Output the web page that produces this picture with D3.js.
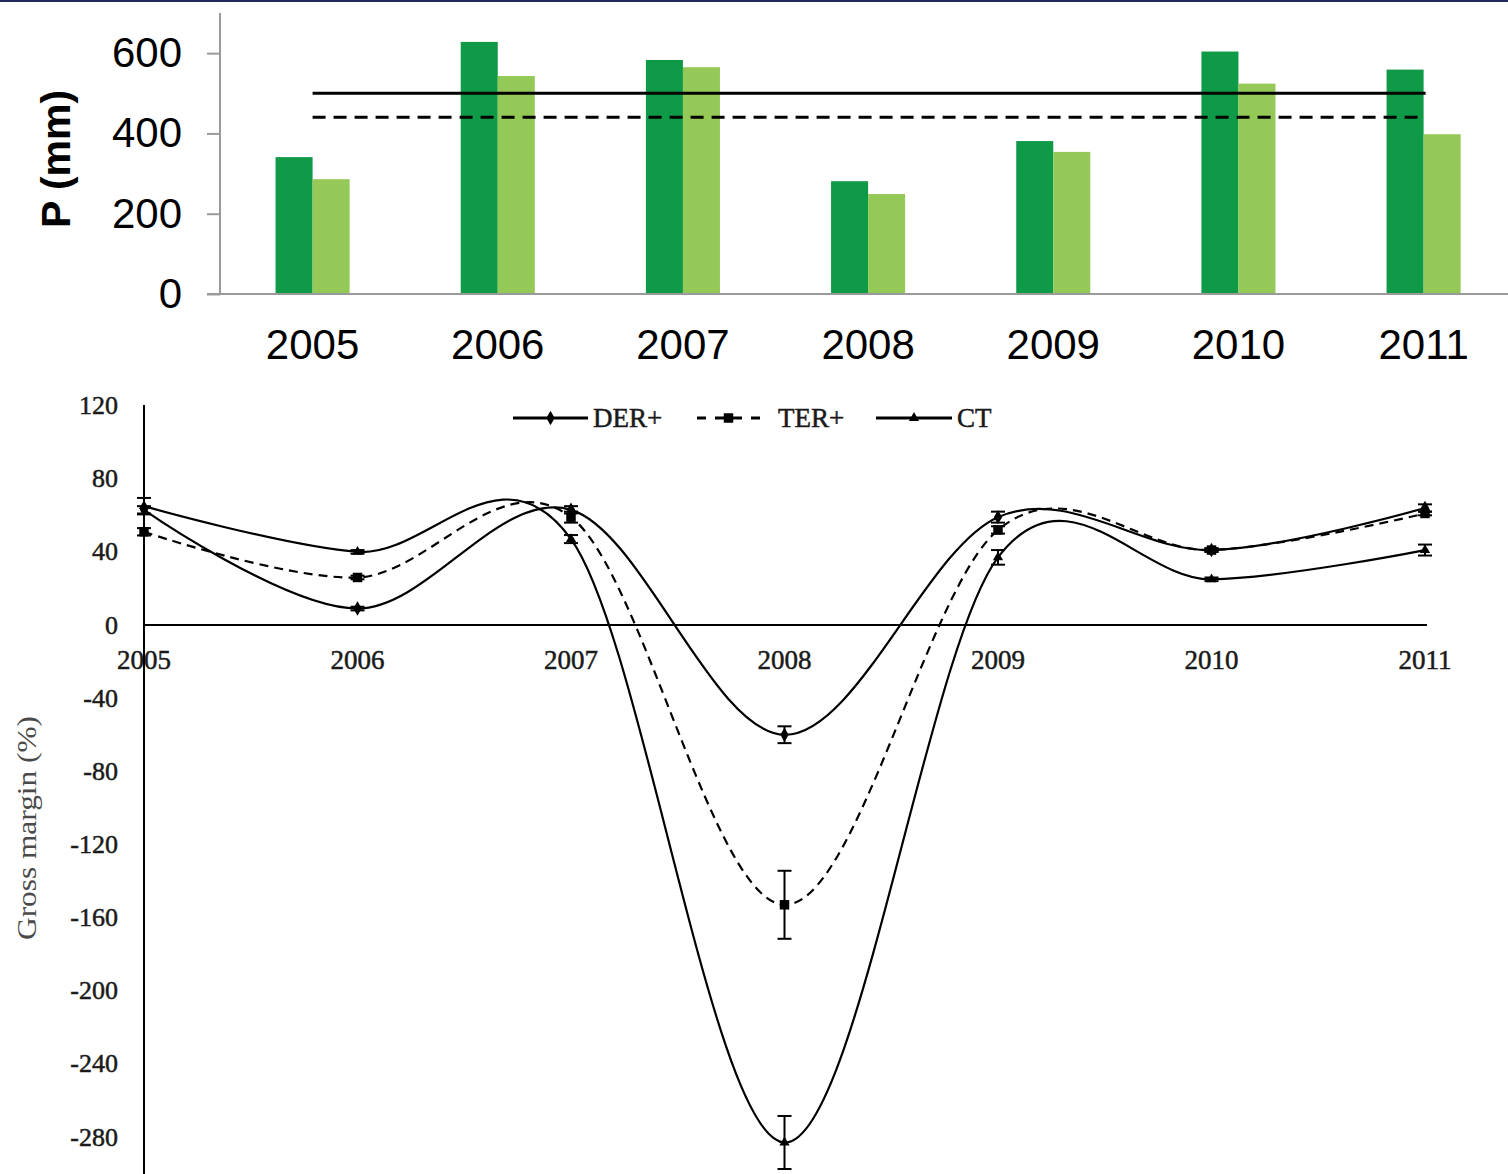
<!DOCTYPE html>
<html>
<head>
<meta charset="utf-8">
<script src="https://cdn.jsdelivr.net/npm/d3@7"></script>
<style>
  html, body { margin: 0; padding: 0; background: #fff; }
  svg { display: block; }
</style>
</head>
<body>
<svg id="chart" width="1508" height="1174"></svg>
<script>
// ---- Precipitation (top panel) ----
const years = ["2005", "2006", "2007", "2008", "2009", "2010", "2011"];
const precipDark = [341, 628, 583, 281, 381, 604, 559];
const precipLight = [286, 543, 565, 249, 354, 524, 398];
const meanDark = 500;
const meanLight = 440;
const precipTicks = [0, 200, 400, 600];

// ---- Gross margin (bottom panel) ----
const derPlus = [63, 9, 63, -60, 59, 41, 64];
const derPlusErr = [2, 1, 2, 4.6, 3, 1, 2];
const terPlus = [51, 26, 59, -153, 52, 41, 61];
const terPlusErr = [2, 1, 3, 18.6, 2, 1, 1];
const ctVals = [65, 40, 47, -283, 37, 25, 41];
const ctErr = [4.5, 1, 2.2, 14.5, 4, 1, 3];
const marginTicks = [120, 80, 40, 0, -40, -80, -120, -160, -200, -240, -280];
const seriesNames = ["DER+", "TER+", "CT"];

const svg = d3.select("#chart");

// thin frame line along the top edge
svg.append("rect").attr("x", 0).attr("y", 0).attr("width", 1508).attr("height", 2)
  .attr("fill", "#1e2b5c");

// ================= Top panel =================
const topG = svg.append("g");
const xBand = d3.scaleBand().domain(years).range([220, 1516.2])
  .paddingInner(0.6).paddingOuter(0.3);
const xSub = d3.scaleBand().domain(["dark", "light"]).range([0, xBand.bandwidth()]);
const yTop = d3.scaleLinear().domain([0, 700]).range([294, 13]);

// bars
const barData = years.map((y, i) => ({ year: y, dark: precipDark[i], light: precipLight[i] }));
const colors = { dark: "#0f9a48", light: "#95c957" };
const grp = topG.selectAll("g.year").data(barData).join("g")
  .attr("transform", d => `translate(${xBand(d.year)},0)`);
grp.selectAll("rect").data(d => ["dark", "light"].map(k => ({ k, v: d[k] }))).join("rect")
  .attr("x", d => xSub(d.k))
  .attr("width", xSub.bandwidth())
  .attr("y", d => yTop(d.v))
  .attr("height", d => yTop(0) - yTop(d.v))
  .attr("fill", d => colors[d.k]);

// mean lines
const xFirst = xBand(years[0]) + xBand.bandwidth() / 2;
const xLast = xBand(years[years.length - 1]) + xBand.bandwidth() / 2;
topG.append("line").attr("x1", xFirst).attr("x2", xLast + 2)
  .attr("y1", yTop(meanDark)).attr("y2", yTop(meanDark))
  .attr("stroke", "#000").attr("stroke-width", 3);
topG.append("line").attr("x1", xFirst).attr("x2", xLast - 2)
  .attr("y1", yTop(meanLight)).attr("y2", yTop(meanLight))
  .attr("stroke", "#000").attr("stroke-width", 3).attr("stroke-dasharray", "13,8");

// axes
const yAxisTop = d3.axisLeft(yTop).tickValues(precipTicks).tickSize(13).tickPadding(25);
const yTopG = topG.append("g").attr("transform", "translate(220,0)").call(yAxisTop);
yTopG.select(".domain").attr("stroke", "#9a9a9a").attr("stroke-width", 2)
  .attr("d", `M0,${yTop(700)}V${yTop(0)}`);
yTopG.selectAll(".tick line").attr("stroke", "#9a9a9a").attr("stroke-width", 2);
yTopG.selectAll(".tick text").attr("font-family", "Liberation Sans, Arial, sans-serif")
  .attr("font-size", 42).attr("fill", "#000");

topG.append("line").attr("x1", 207).attr("x2", 1508).attr("y1", yTop(0)).attr("y2", yTop(0))
  .attr("stroke", "#9a9a9a").attr("stroke-width", 2);

topG.selectAll("text.xlab").data(years).join("text").attr("class", "xlab")
  .attr("x", d => xBand(d) + xBand.bandwidth() / 2)
  .attr("y", 359)
  .attr("text-anchor", "middle")
  .attr("font-family", "Liberation Sans, Arial, sans-serif")
  .attr("font-size", 42).attr("fill", "#000")
  .text(d => d);

topG.append("text")
  .attr("transform", "translate(70,159) rotate(-90)")
  .attr("text-anchor", "middle")
  .attr("font-family", "Liberation Sans, Arial, sans-serif")
  .attr("font-weight", "bold").attr("font-size", 41).attr("fill", "#000")
  .text("P (mm)");

// ================= Bottom panel =================
const botG = svg.append("g");
const serif = "Liberation Serif, Times New Roman, serif";
const xPt = d3.scalePoint().domain(years).range([144, 1425]);
const yBot = d3.scaleLinear().domain([-280, 120]).range([1137, 405.6]);

// tick labels
botG.selectAll("text.ytick").data(marginTicks).join("text").attr("class", "ytick")
  .attr("x", 118).attr("y", d => yBot(d)).attr("dy", "0.33em")
  .attr("text-anchor", "end")
  .attr("font-family", serif).attr("font-size", 26).attr("fill", "#1a1a1a")
  .attr("stroke", "#1a1a1a").attr("stroke-width", 0.5)
  .text(d => d);

botG.selectAll("text.xtick").data(years).join("text").attr("class", "xtick")
  .attr("x", d => xPt(d)).attr("y", 669)
  .attr("text-anchor", "middle")
  .attr("font-family", serif).attr("font-size", 27).attr("fill", "#1a1a1a")
  .attr("stroke", "#1a1a1a").attr("stroke-width", 0.5)
  .text(d => d);

botG.append("text")
  .attr("transform", "translate(36,828) rotate(-90)")
  .attr("text-anchor", "middle")
  .attr("font-family", serif).attr("font-size", 27).attr("fill", "#4a4a4a")
  .attr("textLength", 224).attr("lengthAdjust", "spacingAndGlyphs")
  .text("Gross margin (%)");

// axes lines
botG.append("line").attr("x1", 144).attr("x2", 144).attr("y1", 405).attr("y2", 1174)
  .attr("stroke", "#000").attr("stroke-width", 2);
botG.append("line").attr("x1", 144).attr("x2", 1427).attr("y1", yBot(0)).attr("y2", yBot(0))
  .attr("stroke", "#000").attr("stroke-width", 2);

// series
const series = [
  { name: seriesNames[0], vals: derPlus, err: derPlusErr, dash: null, marker: "diamond" },
  { name: seriesNames[1], vals: terPlus, err: terPlusErr, dash: "9,6", marker: "square" },
  { name: seriesNames[2], vals: ctVals, err: ctErr, dash: null, marker: "triangle" }
];
const symbolTypes = { diamond: d3.symbolDiamond, square: d3.symbolSquare, triangle: d3.symbolTriangle };
const symbolSizes = { diamond: 60, square: 90, triangle: 45 };

const lineGen = d3.line()
  .x((d, i) => xPt(years[i]))
  .y(d => yBot(d))
  .curve(d3.curveCardinal.tension(0));

series.forEach(s => {
  const g = botG.append("g");
  g.append("path").datum(s.vals).attr("d", lineGen)
    .attr("fill", "none").attr("stroke", "#000").attr("stroke-width", 2.2)
    .attr("stroke-dasharray", s.dash);
  // error bars
  const eb = g.selectAll("g.err").data(s.vals.map((v, i) => ({ v, e: s.err[i], x: xPt(years[i]) })))
    .join("g").attr("class", "err");
  eb.append("line").attr("x1", d => d.x).attr("x2", d => d.x)
    .attr("y1", d => yBot(d.v + d.e)).attr("y2", d => yBot(d.v - d.e))
    .attr("stroke", "#000").attr("stroke-width", 2);
  [1, -1].forEach(sg => {
    eb.append("line").attr("x1", d => d.x - 7).attr("x2", d => d.x + 7)
      .attr("y1", d => yBot(d.v + sg * d.e)).attr("y2", d => yBot(d.v + sg * d.e))
      .attr("stroke", "#000").attr("stroke-width", 2);
  });
  g.selectAll("path.mk").data(s.vals).join("path").attr("class", "mk")
    .attr("transform", (d, i) => `translate(${xPt(years[i])},${yBot(d)})`)
    .attr("d", d3.symbol().type(symbolTypes[s.marker]).size(symbolSizes[s.marker]))
    .attr("fill", "#000");
});

// legend
const legendItems = [
  { x: 513, w: 75, s: series[0] },
  { x: 697, w: 63, s: series[1] },
  { x: 876, w: 76, s: series[2] }
];
const legY = 418;
legendItems.forEach(it => {
  const g = botG.append("g");
  g.append("line").attr("x1", it.x).attr("x2", it.x + it.w).attr("y1", legY).attr("y2", legY)
    .attr("stroke", "#000").attr("stroke-width", 3)
    .attr("stroke-dasharray", it.s.dash ? "9,9" : null);
  g.append("path").attr("transform", `translate(${it.x + it.w / 2},${legY})`)
    .attr("d", d3.symbol().type(symbolTypes[it.s.marker]).size(symbolSizes[it.s.marker]))
    .attr("fill", "#000");
  g.append("text").attr("x", it.x + it.w + (it.s.dash ? 18 : 5)).attr("y", legY).attr("dy", "0.35em")
    .attr("font-family", serif).attr("font-size", 27).attr("fill", "#1a1a1a")
    .attr("stroke", "#1a1a1a").attr("stroke-width", 0.5)
    .text(it.s.name);
});
</script>
</body>
</html>
